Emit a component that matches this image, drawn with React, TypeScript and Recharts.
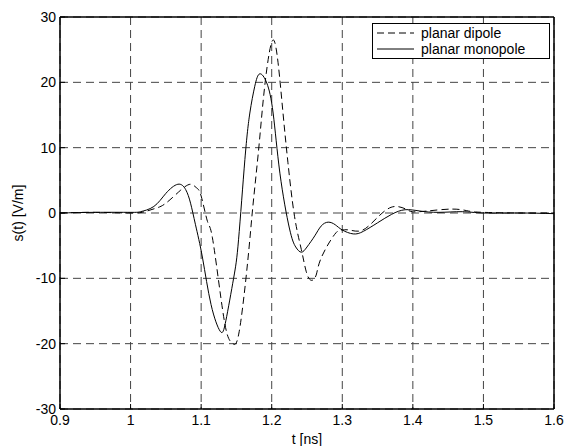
import { CartesianGrid, Line, LineChart, XAxis, YAxis } from 'recharts';

// time samples [ns] and field values [V/m]
const dipoleT = [0.9, 0.95, 1.0, 1.02, 1.035, 1.05, 1.071, 1.085, 1.093, 1.1, 1.109, 1.116, 1.128, 1.137, 1.145, 1.154, 1.166, 1.173, 1.181, 1.188, 1.195, 1.2022, 1.209, 1.216, 1.223, 1.2323, 1.242, 1.249, 1.256, 1.263, 1.27, 1.289, 1.299, 1.31, 1.327, 1.345, 1.36, 1.375, 1.39, 1.399, 1.42, 1.456, 1.479, 1.5, 1.55, 1.6];
const dipoleS = [0, 0.1, 0, 0.2, 0.7, 1.5, 3.5, 4.4, 3.9, 2.6, -1.3, -3.8, -13, -18.6, -20, -18.1, -7.4, 0.7, 9.2, 17.3, 23.5, 26.5, 23, 15.3, 7.7, -0.5, -5.6, -9.0, -10.3, -9.5, -6.9, -3.3, -2.6, -2.6, -2.7, -1.2, 0.3, 1.0, 0.6, 0.2, 0.3, 0.6, 0.3, 0.1, 0, 0];

const monopoleT = [0.9, 0.95, 1.0, 1.014, 1.033, 1.05, 1.067, 1.078, 1.085, 1.092, 1.102, 1.114, 1.127, 1.135, 1.146, 1.153, 1.162, 1.169, 1.176, 1.183, 1.193, 1.202, 1.2116, 1.225, 1.234, 1.242, 1.25, 1.261, 1.27, 1.28, 1.29, 1.3, 1.3155, 1.33, 1.35, 1.37, 1.389, 1.41, 1.437, 1.47, 1.5, 1.55, 1.6];
const monopoleS = [0, 0.1, 0.1, 0.2, 1.0, 3.0, 4.4, 3.6, 1.5, -1.8, -6.9, -14, -18.1, -16.5, -10.0, -4.1, 8.2, 15.3, 19.4, 21.3, 19.9, 15.3, 6.1, -2.3, -5.2, -6.0, -5.2, -3.5, -2.0, -1.4, -1.8, -2.6, -3.2, -2.8, -1.5, -0.2, 0.5, 0.3, 0.1, 0.2, 0, 0, -0.1];

const xTicks = [0.9, 1.0, 1.1, 1.2, 1.3, 1.4, 1.5, 1.6];
const xTickLabels = ['0.9', '1', '1.1', '1.2', '1.3', '1.4', '1.5', '1.6'];
const yTicks = [-30, -20, -10, 0, 10, 20, 30];

const dipole = dipoleT.map((t, i) => ({ t, s: dipoleS[i] }));
const monopole = monopoleT.map((t, i) => ({ t, s: monopoleS[i] }));

const font = '"Liberation Sans", Arial, sans-serif';

const BottomTick = (props: any) => {
  const { x, y, payload } = props;
  const idx = xTicks.findIndex((v) => Math.abs(v - payload.value) < 1e-6);
  return (
    <g>
      <line x1={x} x2={x} y1={y} y2={y - 5} stroke="#000" />
      <text x={x} y={y + 16} textAnchor="middle" fontSize={14} fontFamily={font} fill="#000">
        {idx >= 0 ? xTickLabels[idx] : payload.value}
      </text>
    </g>
  );
};

const TopTick = (props: any) => (
  <line x1={props.x} x2={props.x} y1={props.y} y2={props.y + 5} stroke="#000" />
);

const LeftTick = (props: any) => {
  const { x, y, payload } = props;
  return (
    <g>
      <line x1={x} x2={x + 5} y1={y} y2={y} stroke="#000" />
      <text x={x - 4} y={y + 5} textAnchor="end" fontSize={14} fontFamily={font} fill="#000">
        {payload.value}
      </text>
    </g>
  );
};

const RightTick = (props: any) => (
  <line x1={props.x} x2={props.x - 5} y1={props.y} y2={props.y} stroke="#000" />
);

function LegendBox() {
  const row = { display: 'flex', alignItems: 'center', height: 16 };
  return (
    <div
      style={{
        position: 'absolute',
        left: 372,
        top: 23,
        width: 176,
        height: 33,
        border: '1px solid #000',
        background: '#fff',
        fontFamily: font,
        fontSize: 14,
        paddingTop: 1,
        boxSizing: 'content-box',
      }}
    >
      <div style={row}>
        <svg width={48} height={16}>
          <line x1={4} x2={41} y1={8} y2={8} stroke="#000" strokeDasharray="7 4" />
        </svg>
        <span>planar dipole</span>
      </div>
      <div style={row}>
        <svg width={48} height={16}>
          <line x1={4} x2={41} y1={8} y2={8} stroke="#000" />
        </svg>
        <span>planar monopole</span>
      </div>
    </div>
  );
}

export default function App() {
  return (
    <div style={{ position: 'absolute', left: 0, top: 0, width: 566, height: 446, background: '#fff' }}>
      <LineChart width={566} height={446} margin={{ top: 16, right: 11, bottom: 0, left: 0 }}>
        <CartesianGrid stroke="#444" strokeDasharray="8 5" />
        <XAxis
          dataKey="t"
          type="number"
          domain={[0.9, 1.6]}
          ticks={xTicks}
          allowDataOverflow
          height={37}
          tickSize={0}
          tickMargin={0}
          tickLine={false}
          tick={BottomTick}
          axisLine={{ stroke: '#000', strokeWidth: 1.5 }}
          label={{ value: 't [ns]', position: 'insideBottom', offset: 2, fontSize: 14, fontFamily: font, fill: '#000' }}
        />
        <XAxis
          xAxisId="top"
          orientation="top"
          dataKey="t"
          type="number"
          domain={[0.9, 1.6]}
          ticks={xTicks}
          height={1}
          tickSize={0}
          tickMargin={0}
          tickLine={false}
          tick={TopTick}
          axisLine={{ stroke: '#000', strokeWidth: 1.5 }}
        />
        <YAxis
          type="number"
          domain={[-30, 30]}
          ticks={yTicks}
          width={60}
          tickSize={0}
          tickMargin={0}
          tickLine={false}
          tick={LeftTick}
          axisLine={{ stroke: '#000', strokeWidth: 1.5 }}
          label={{
            value: 's(t) [V/m]',
            angle: -90,
            position: 'insideLeft',
            offset: 18,
            fontSize: 14,
            fontFamily: font,
            fill: '#000',
            style: { textAnchor: 'middle', fill: '#000' },
          }}
        />
        <YAxis
          yAxisId="right"
          orientation="right"
          type="number"
          domain={[-30, 30]}
          ticks={yTicks}
          width={1}
          tickSize={0}
          tickMargin={0}
          tickLine={false}
          tick={RightTick}
          axisLine={{ stroke: '#000', strokeWidth: 1.5 }}
        />
        <Line
          data={dipole}
          dataKey="s"
          type="natural"
          stroke="#000"
          strokeWidth={1}
          strokeDasharray="7 4"
          dot={false}
          isAnimationActive={false}
        />
        <Line
          data={monopole}
          dataKey="s"
          type="natural"
          stroke="#000"
          strokeWidth={1}
          dot={false}
          isAnimationActive={false}
        />
      </LineChart>
      <LegendBox />
    </div>
  );
}
